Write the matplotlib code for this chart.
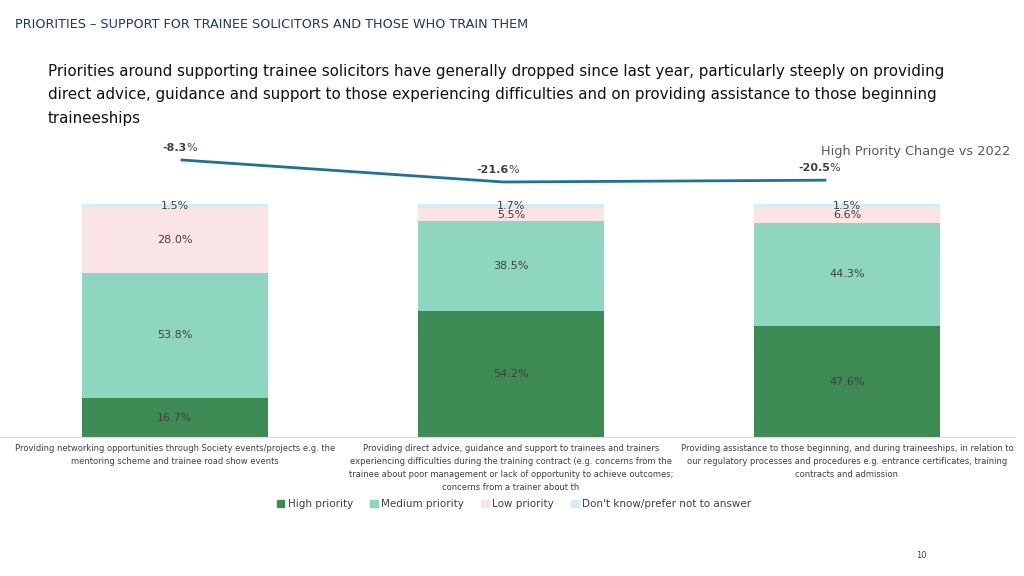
import numpy as np
import matplotlib.pyplot as plt
from matplotlib.patches import Rectangle

plt.rcParams['font.family'] = ['DejaVu Sans']

# data
categories = [
    "Providing networking opportunities through Society events/projects e.g. the\nmentoring scheme and trainee road show events",
    "Providing direct advice, guidance and support to trainees and trainers\nexperiencing difficulties during the training contract (e.g. concerns from the\ntrainee about poor management or lack of opportunity to achieve outcomes;\nconcerns from a trainer about th",
    "Providing assistance to those beginning, and during traineeships, in relation to\nour regulatory processes and procedures e.g. entrance certificates, training\ncontracts and admission",
]
high = [16.7, 54.2, 47.6]
medium = [53.8, 38.5, 44.3]
low = [28.0, 5.5, 6.6]
dont_know = [1.5, 1.7, 1.5]
change = [-8.3, -21.6, -20.5]

series = [("High priority", high, "#3d8a55"),
          ("Medium priority", medium, "#8fd6c1"),
          ("Low priority", low, "#fbe4e6"),
          ("Don't know/prefer not to answer", dont_know, "#d4edf2")]

fig = plt.figure(figsize=(10.24, 5.76), dpi=100)
W, H = 1024, 576

def px(x0, y0, x1, y1):
    # pixel box -> figure fraction rect
    return [x0 / W, 1 - y1 / H, (x1 - x0) / W, (y1 - y0) / H]

# header + subtitle
fig.text(15 / W, 1 - 24 / H, "PRIORITIES \u2013 SUPPORT FOR TRAINEE SOLICITORS AND THOSE WHO TRAIN THEM",
         fontsize=9.2, color="#1f3864", va="center")
subtitle = ("Priorities around supporting trainee solicitors have generally dropped since last year, particularly steeply on providing\n"
            "direct advice, guidance and support to those experiencing difficulties and on providing assistance to those beginning\n"
            "traineeships")
fig.text(48 / W, 1 - 64 / H, subtitle, fontsize=10.9, color="#111111", va="top", linespacing=1.7)

# stacked bars
ax = fig.add_axes(px(0, 200, 1015, 437))
x = np.arange(len(categories))
bottom = np.zeros(len(categories))
for name, vals, col in series:
    vals = np.array(vals)
    ax.bar(x, vals, 0.554, bottom=bottom, color=col, label=name)
    for xi, b, v in zip(x, bottom, vals):
        ax.text(xi, b + v / 2, f"{v:.1f}%", ha="center", va="center", fontsize=8, color="#404040")
    bottom += vals
ax.set_xlim(-0.52, 2.5)
ax.set_ylim(0, 100 * 237 / 233)
for s in ["top", "right", "left"]:
    ax.spines[s].set_visible(False)
ax.spines["bottom"].set_color("#d9d9d9")
ax.set_yticks([])
ax.set_xticks([])
for xi, lab in zip(x, categories):
    ax.text(xi, -3.2, lab, ha="center", va="top", fontsize=6.0, color="#404040", linespacing=1.55)

# legend
handles = [Rectangle((0, 0), 1, 1, color=c) for _, _, c in series]
fig.legend(handles, [n for n, _, _ in series], loc="center", bbox_to_anchor=(514 / W, 1 - 504 / H),
           ncol=4, frameon=False, fontsize=7.5, handlelength=0.7, handleheight=0.7,
           handletextpad=0.3, columnspacing=1.7, labelcolor="#404040")

# change line (own x scale, as in the slide)
lax = fig.add_axes(px(0, 140, 1015, 200))
lax.plot(x, change, color="#1a7399", lw=2)
lax.set_xlim(-0.566, 2.591)
lax.set_ylim(-32.48, 3.79)
lax.axis("off")
for xi, v in zip(x, change):
    lax.annotate(f"{v:.1f}", (xi, v), xytext=(3.5, 8.5), textcoords="offset points",
                 ha="right", va="center", fontsize=8, fontweight="bold", color="#404040")
    lax.annotate("%", (xi, v), xytext=(3.5, 8.5), textcoords="offset points",
                 ha="left", va="center", fontsize=8, color="#404040")
fig.text(1010 / W, 1 - 151 / H, "High Priority Change vs 2022", ha="right", va="center",
         fontsize=9.3, color="#595959")

fig.text(921 / W, 1 - 556 / H, "10", ha="center", va="center", fontsize=6, color="#404040")

fig.savefig("out.png", dpi=100)
